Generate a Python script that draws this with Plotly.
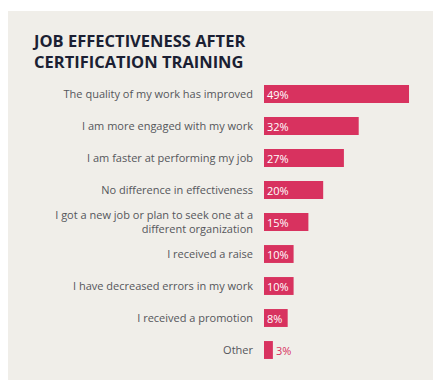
import plotly.graph_objects as go

categories = [
    "The quality of my work has improved",
    "I am more engaged with my work",
    "I am faster at performing my job",
    "No difference in effectiveness",
    "I got a new job or plan to seek one at a<br>different organization",
    "I received a raise",
    "I have decreased errors in my work",
    "I received a promotion",
    "Other",
]
values = [49, 32, 27, 20, 15, 10, 10, 8, 3]
value_labels = ["49%", "32%", "27%", "20%", "15%", "10%", "10%", "8%", "3%"]
title_text = "JOB EFFECTIVENESS AFTER<br>CERTIFICATION TRAINING"

BAR = "#D8325F"
BG = "#F0EEE9"

# page body has an 8px default margin; compensate
OFF = 8
W, H = 441 - OFF, 387 - OFF
ml = 264 - OFF
plot_right = 425 - OFF
plot_top = 78 - OFF
plot_bottom = 366 - OFF
mr = W - plot_right
mt = plot_top
mb = H - plot_bottom
pw = W - ml - mr
ph = H - mt - mb
xmax = 54.4

positions = ["inside" if v >= 5 else "outside" for v in values]

fig = go.Figure(go.Bar(
    x=values,
    y=categories,
    orientation="h",
    marker=dict(color=BAR, line=dict(width=0)),
    width=0.56,
    text=value_labels,
    textposition=positions,
    insidetextanchor="start",
    insidetextfont=dict(color="white", size=11, family="Open Sans"),
    outsidetextfont=dict(color=BAR, size=11, family="Open Sans"),
    constraintext="none",
    cliponaxis=False,
    hoverinfo="skip",
))

def px_x(p):
    return (p - OFF - ml) / pw

def px_y(p):
    return (H - mb - (p - OFF)) / ph

fig.add_shape(type="rect", xref="paper", yref="paper",
              x0=px_x(7), x1=px_x(433), y0=px_y(380), y1=px_y(11),
              fillcolor=BG, line=dict(width=0), layer="below")

fig.add_annotation(text="<b>" + title_text + "</b>", xref="paper", yref="paper",
                   x=px_x(30), y=px_y(27), xanchor="left", yanchor="top",
                   align="left", showarrow=False,
                   font=dict(family="Open Sans", size=16.5, color="#1B1F33"))

fig.update_layout(
    width=W, height=H,
    margin=dict(l=ml, r=mr, t=mt, b=mb),
    paper_bgcolor="white",
    plot_bgcolor="rgba(0,0,0,0)",
    showlegend=False,
    xaxis=dict(range=[0, xmax], visible=False, fixedrange=True),
    yaxis=dict(
        categoryorder="array", categoryarray=categories[::-1],
        range=[-0.5, len(categories) - 0.5],
        showgrid=False, zeroline=False, showline=False,
        ticks="", ticklabelstandoff=10,
        tickfont=dict(family="Open Sans", size=11, color="#55565B"),
        fixedrange=True,
    ),
    bargap=0.44,
)

fig.write_html("out.html")
